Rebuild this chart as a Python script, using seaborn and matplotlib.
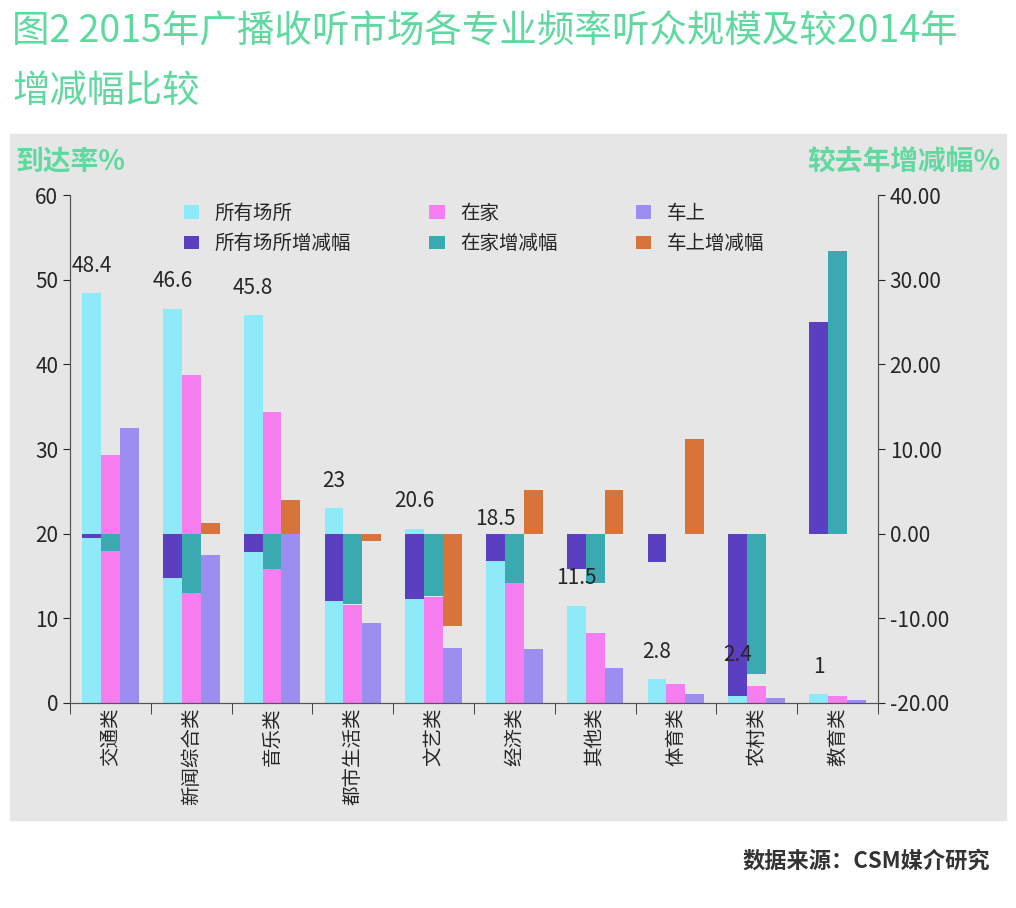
import pandas as pd
import seaborn as sns
import matplotlib.pyplot as plt
from matplotlib.patches import Rectangle

cats = ["交通类", "新闻综合类", "音乐类", "都市生活类", "文艺类", "经济类", "其他类", "体育类", "农村类", "教育类"]
all_places = [48.4, 46.6, 45.8, 23, 20.6, 18.5, 11.5, 2.8, 2.4, 1]
at_home = [29.3, 38.7, 34.4, 11.6, 12.5, 14.2, 8.3, 2.2, 2.0, 0.8]
in_car = [32.5, 17.5, 20.0, 9.4, 6.5, 6.4, 4.1, 1.0, 0.6, 0.3]
chg_all = [-0.5, -5.2, -2.2, -8.0, -7.7, -3.2, -4.2, -3.4, -19.2, 25.0]
chg_home = [-2.1, -7.0, -4.2, -8.3, -7.4, -5.8, -5.8, 0, -16.6, 33.4]
chg_car = [0, 1.2, 4.0, -0.9, -10.9, 5.2, 5.2, 11.2, 0, 0]

sns.set_style("white")
plt.rcParams['font.family'] = ['Noto Sans CJK SC', 'DejaVu Sans']

lvl = pd.DataFrame({"cat": cats * 3,
                    "s": ["所有场所"] * 10 + ["在家"] * 10 + ["车上"] * 10,
                    "v": all_places + at_home + in_car})
chg = pd.DataFrame({"cat": cats * 3,
                    "s": ["所有场所增减幅"] * 10 + ["在家增减幅"] * 10 + ["车上增减幅"] * 10,
                    "v": chg_all + chg_home + chg_car})

fig = plt.figure(figsize=(10.16, 9.08), dpi=100)
fig.patches.append(Rectangle((0.01, 0.097), 0.98, 0.755, transform=fig.transFigure,
                             color="#e6e6e6", zorder=-10))
green = "#5fd9a0"
fig.text(0.012, 0.965, "图2 2015年广播收听市场各专业频率听众规模及较2014年", fontsize=27, color=green, va="center")
fig.text(0.012, 0.9, "增减幅比较", fontsize=27, color=green, va="center")
fig.text(0.015, 0.822, "到达率%", fontsize=20, color=green, weight="bold", va="center")
fig.text(0.985, 0.822, "较去年增减幅%", fontsize=20, color=green, weight="bold", va="center", ha="right")
fig.text(0.975, 0.052, "数据来源：CSM媒介研究", fontsize=16, color="#333333", weight="bold", ha="right", va="center")

ax = fig.add_axes([0.069, 0.226, 0.795, 0.559])
ax.set_facecolor("#e6e6e6")
sns.barplot(data=lvl, x="cat", y="v", hue="s", order=cats, ax=ax, width=0.7,
            palette=["#8eeaf8", "#f77ef0", "#9b8ef0"], saturation=1, linewidth=0)
ax.set_ylim(0, 60)
ax.set_xlabel("")
ax.set_ylabel("")

ax2 = ax.twinx()
sns.barplot(data=chg, x="cat", y="v", hue="s", order=cats, ax=ax2, width=0.7,
            palette=["#5a3fc0", "#3aaab0", "#d8743a"], saturation=1, linewidth=0)
ax2.set_ylim(-20, 40)
ax2.set_ylabel("")
ax2.yaxis.set_major_formatter(plt.FormatStrFormatter("%.2f"))

for i, v in enumerate(all_places):
    ax2.text(i - 0.233, v + 2.5, f"{v:g}", ha="center", fontsize=15,
             transform=ax.transData, zorder=10)

h1, l1 = ax.get_legend_handles_labels()
h2, l2 = ax2.get_legend_handles_labels()
ax.get_legend().remove()
hs, ls = [], []
for a, b, c, d in zip(h1, h2, l1, l2):
    hs += [a, b]
    ls += [c, d]
ax2.legend(hs, ls, ncol=3, frameon=False, loc="upper center",
           bbox_to_anchor=(0.5, 1.02), fontsize=14, columnspacing=4, handlelength=0.8)

ax.set_xticks(range(len(cats)))
ax.set_xticklabels(cats, rotation=90, fontsize=14)
for a in (ax, ax2):
    a.spines["top"].set_visible(False)
    for sp in ("left", "right", "bottom"):
        a.spines[sp].set_color("#555555")
ax.tick_params(axis="y", labelsize=15, left=True, length=5)
ax2.tick_params(axis="y", labelsize=15, right=True, length=5)
ax.tick_params(axis="x", bottom=True, length=0)
ax.set_xticks([i + 0.5 for i in range(-1, 10)], minor=True)
ax.tick_params(axis="x", which="minor", bottom=True, length=8)

fig.savefig("out.png", dpi=100)
